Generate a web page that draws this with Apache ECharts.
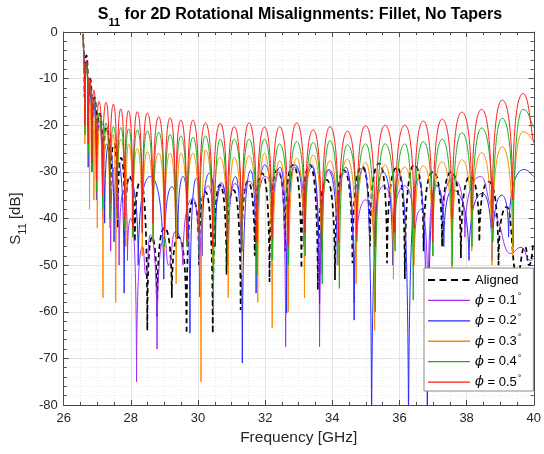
<!DOCTYPE html>
<html>
<head>
<meta charset="utf-8">
<script src="https://cdn.jsdelivr.net/npm/echarts@6/dist/echarts.min.js"></script>
<style>
  html, body { margin: 0; padding: 0; background: #fff; }
  #chart { width: 544px; height: 454px; }
</style>
</head>
<body>
<div id="chart"></div>
<script>
// Key points of each S11 trace, [frequency GHz, dB], running through
// successive ripple maxima and minima.
const aligned = [
  [26.58,-0.5],[26.62,-14],[26.68,-5],[26.73,-20],[26.79,-10],[26.85,-25],[26.92,-14],[26.99,-30],
  [27.07,-17.5],[27.17,-34],[27.28,-20.5],[27.39,-38],[27.50,-24],[27.61,-42],[27.71,-27],[27.83,-46],
  [27.96,-31],[28.12,-45],[28.29,-32],[28.49,-64],[28.63,-44],[28.78,-61],[29.0,-42],[29.22,-57],
  [29.42,-44],[29.66,-64.7],[29.85,-36],[30.03,-50],[30.22,-34.3],[30.44,-64.6],[30.65,-32.8],[30.85,-52],
  [31.06,-33.9],[31.27,-59.6],[31.48,-32.1],[31.69,-48],[31.91,-30.3],[32.13,-53.6],[32.36,-29.6],[32.59,-47],
  [32.83,-28.5],[33.08,-50.7],[33.33,-28.5],[33.57,-55.3],[33.83,-31.7],[34.08,-53.2],[34.34,-29.6],[34.60,-49.6],
  [34.88,-28.9],[35.12,-46],[35.40,-28.2],[35.63,-49.6],[35.93,-29],[36.16,-53],[36.44,-28.5],[36.72,-47],
  [37.0,-30],[37.27,-46],[37.54,-30],[37.83,-48.5],[38.10,-31],[38.38,-45],[38.66,-32.1],[38.95,-50],
  [39.2,-37.5],[39.5,-52],[39.74,-46],[39.86,-50],[40.0,-45]
];
const phi01 = [
  [26.58,-0.5],[26.63,-15],[26.68,-6],[26.73,-21],[26.78,-11],[26.84,-28],[26.90,-15],[26.975,-34],
  [27.05,-19],[27.16,-40],[27.28,-24],[27.40,-47],[27.52,-29],[27.65,-50],[27.80,-34],[27.90,-49],
  [28.0,-40],[28.17,-75],[28.35,-46],[28.45,-52],[28.58,-43.5],[28.78,-68],[29.0,-44],[29.12,-50],
  [29.32,-42.8],[29.55,-50],[29.85,-35.7],[30.05,-56.8],[30.30,-33],[30.50,-37],[30.70,-33],[30.90,-36],
  [31.10,-32.5],[31.30,-35],[31.52,-32],[31.75,-34],[32.0,-31],[32.25,-33],[32.42,-30],[32.61,-67.5],
  [32.88,-29],[33.15,-38],[33.40,-28.5],[33.62,-67.5],[33.90,-29.5],[34.15,-42],[34.40,-30],[34.65,-58],
  [34.99,-36],[35.25,-48],[35.52,-33],[35.82,-45],[36.15,-33],[36.45,-46],[36.65,-38],[36.85,-62],
  [37.08,-32.8],[37.30,-40],[37.60,-31.5],[37.95,-44],[38.42,-31],[38.70,-37],[38.95,-40.7],[39.3,-47.5],
  [39.62,-46.2],[39.9,-49],[40.0,-48.5]
];
const phi02 = [
  [26.58,-0.5],[26.63,-18],[26.68,-7],[26.73,-29],[26.78,-12],[26.84,-30],[26.90,-16],[26.975,-36],
  [27.05,-20],[27.22,-41],[27.35,-24],[27.50,-45],[27.62,-28],[27.80,-56],[27.95,-31.4],[28.22,-50],
  [28.58,-31],[28.98,-53],[29.22,-33.2],[29.40,-44],[29.56,-31],[29.76,-64.6],[29.95,-31.4],[30.12,-48],
  [30.34,-30.3],[30.52,-46],[30.69,-32.3],[30.90,-50],[31.12,-31],[31.32,-71],[31.57,-29.7],[31.73,-56],
  [31.99,-28.5],[32.22,-45],[32.45,-29],[32.64,-60.3],[32.89,-28.5],[33.15,-46],[33.40,-29],[33.62,-58.2],
  [33.87,-29.6],[34.15,-50],[34.40,-29],[34.65,-61.8],[34.94,-28.9],[35.17,-88],[35.50,-30],[35.80,-50],
  [36.0,-30.5],[36.27,-88],[36.56,-31.4],[36.83,-88],[37.10,-33],[37.32,-46],[37.58,-33.9],[38.07,-49],
  [38.47,-34.6],[38.76,-49],[39.05,-35],[39.25,-44],[39.70,-29.5],[40.0,-31]
];
const phi03 = [
  [26.58,-0.5],[26.63,-24],[26.68,-8],[26.77,-38],[26.83,-15],[26.90,-36],[26.95,-18],[27.0,-42],
  [27.08,-20],[27.17,-57],[27.26,-21],[27.37,-42],[27.48,-22],[27.55,-58],[27.70,-23],[27.85,-46],
  [27.93,-24],[28.06,-44],[28.19,-25],[28.34,-48],[28.49,-25.7],[28.66,-44],[28.83,-26],[29.00,-47],
  [29.17,-26],[29.35,-54],[29.49,-26],[29.67,-46],[29.85,-26],[30.09,-75],[30.22,-25.3],[30.44,-50],
  [30.66,-26.9],[30.90,-57],[31.08,-26.9],[31.30,-52],[31.52,-26.6],[31.78,-58],[31.98,-26.0],[32.21,-63.5],
  [32.43,-27.6],[32.69,-60],[32.94,-27.1],[33.17,-57],[33.43,-26.4],[33.68,-52],[33.93,-27.6],[34.17,-50],
  [34.45,-27.3],[34.71,-54],[34.99,-28.0],[35.26,-64],[35.57,-28.5],[35.82,-53],[36.16,-29.0],[36.435,-50],
  [36.71,-28.7],[36.99,-48],[37.27,-27.8],[37.565,-52],[37.86,-27.4],[38.155,-47],[38.45,-25.9],[38.755,-50],
  [39.06,-24.6],[39.37,-48],[39.68,-21.4],[40.0,-23.5]
];
const phi04 = [
  [26.58,-0.5],[26.635,-22],[26.68,-7],[26.735,-26],[26.78,-11],[26.845,-30],[26.90,-14.5],[26.98,-34],
  [27.05,-17.5],[27.16,-38],[27.26,-19.5],[27.375,-40],[27.48,-20.3],[27.595,-40],[27.70,-20.5],[27.82,-42],
  [27.93,-20.8],[28.065,-44],[28.19,-21.0],[28.345,-43],[28.49,-21.2],[28.665,-45],[28.83,-21.5],[29.005,-46],
  [29.17,-22.0],[29.335,-44],[29.49,-22.3],[29.675,-46],[29.85,-22.6],[30.04,-48],[30.22,-22.3],[30.46,-60],
  [30.66,-23.0],[30.875,-50],[31.08,-23.0],[31.305,-47],[31.52,-23.0],[31.755,-52],[31.98,-23.0],[32.21,-49],
  [32.43,-24.0],[32.69,-50],[32.94,-23.5],[33.19,-48],[33.43,-23.7],[33.70,-54],[33.93,-23.3],[34.21,-55],
  [34.45,-24.2],[34.73,-45],[34.99,-24.0],[35.28,-60],[35.57,-24.0],[35.87,-47],[36.16,-24.0],[36.41,-57.5],
  [36.71,-23.5],[36.995,-48],[37.27,-23.0],[37.57,-50],[37.86,-21.6],[38.16,-46],[38.45,-20.6],[38.78,-45],
  [39.06,-18.5],[39.39,-46],[39.68,-16.6],[40.0,-20.5]
];
const phi05 = [
  [26.58,-0.3],[26.63,-20],[26.68,-6.5],[26.73,-24],[26.78,-10],[26.84,-28],[26.90,-12.5],[26.975,-32],
  [27.05,-14.9],[27.155,-35],[27.26,-15.1],[27.37,-37],[27.48,-15.5],[27.59,-38],[27.70,-16.5],[27.815,-40],
  [27.93,-16.9],[28.06,-42],[28.19,-17.1],[28.34,-43],[28.49,-17.4],[28.66,-41],[28.83,-18.2],[29.00,-44],
  [29.17,-18.4],[29.33,-42],[29.49,-18.9],[29.67,-45],[29.85,-18.9],[30.035,-43],[30.22,-19.5],[30.44,-46],
  [30.66,-19.6],[30.87,-44],[31.08,-20.3],[31.30,-47],[31.52,-19.5],[31.75,-45],[31.98,-20.4],[32.205,-44],
  [32.43,-20.3],[32.685,-46],[32.94,-19.5],[33.185,-43],[33.43,-21.0],[33.68,-47],[33.93,-20.3],[34.19,-45],
  [34.45,-21.3],[34.72,-44],[34.99,-20.1],[35.28,-46],[35.57,-20.0],[35.865,-43],[36.16,-20.0],[36.435,-42],
  [36.71,-19.1],[36.99,-45],[37.27,-18.7],[37.565,-40],[37.86,-17.2],[38.155,-38],[38.45,-16.6],[38.755,-42],
  [39.06,-14.6],[39.37,-36],[39.68,-13.2],[40.0,-23.8]
];

const traceNames = ['Aligned', 'ϕ = 0.1°', 'ϕ = 0.2°', 'ϕ = 0.3°', 'ϕ = 0.4°', 'ϕ = 0.5°'];
const traceData = [aligned, phi01, phi02, phi03, phi04, phi05];
const traceColors = ['#000000', '#a62cf5', '#2b2bff', '#ff8a00', '#17b117', '#ff1a1a'];

const FONT = '"Liberation Sans", Arial, Helvetica, sans-serif';
const AXIS_COLOR = '#4a4a4a';
const TEXT_COLOR = '#262626';

// Builds an SVG path through the key points: ripple maxima are rounded,
// deep minima are sharp cusps, shallow minima stay rounded.
function tracePath(pts, api) {
  const c = pts.map(p => api.coord(p));
  const n = c.length;
  const kind = pts.map((p, i) => {
    if (i === 0 || i === n - 1) return 'end';
    const a = pts[i - 1][1], v = p[1], b = pts[i + 1][1];
    if (v >= a && v >= b) return 'peak';
    if (v <= a && v <= b) return (Math.min(a, b) - v > 6) ? 'cusp' : 'valley';
    return 'mid';
  });
  function ctrl(i, j) {
    const p = c[i], q = c[j];
    const dx = q[0] - p[0], dy = q[1] - p[1];
    switch (kind[i]) {
      case 'peak':
      case 'valley':
        return [p[0] + 0.55 * dx, p[1]];
      case 'cusp':
        return [p[0] + 0.04 * dx, p[1] + 0.72 * dy];
      case 'mid': {
        const step = j > i ? 1 : -1;
        const o = c[i + step], r = c[i - step];
        const tx = o[0] - r[0], ty = o[1] - r[1];
        const L = Math.hypot(tx, ty) || 1;
        const s = Math.hypot(dx, dy) / 3;
        return [p[0] + tx / L * s, p[1] + ty / L * s];
      }
      default:
        return [p[0] + dx / 3, p[1] + dy / 3];
    }
  }
  let d = 'M' + c[0][0].toFixed(2) + ',' + c[0][1].toFixed(2);
  for (let i = 0; i < n - 1; i++) {
    const a = ctrl(i, i + 1), b = ctrl(i + 1, i);
    d += 'C' + a[0].toFixed(2) + ',' + a[1].toFixed(2) + ' ' +
         b[0].toFixed(2) + ',' + b[1].toFixed(2) + ' ' +
         c[i + 1][0].toFixed(2) + ',' + c[i + 1][1].toFixed(2);
  }
  return d;
}

function traceSeries(idx) {
  const pts = traceData[idx];
  const color = traceColors[idx];
  const dashed = idx === 0;
  return {
    type: 'custom',
    name: traceNames[idx],
    coordinateSystem: 'cartesian2d',
    xAxisIndex: 0,
    yAxisIndex: 0,
    data: pts,
    encode: { x: 0, y: 1 },
    clip: true,
    silent: true,
    itemStyle: { color: color },
    renderItem: function (params, api) {
      if (params.dataIndex !== 0) return null;
      const cs = params.coordSys;
      return {
        type: 'group',
        clipPath: { type: 'rect', shape: { x: cs.x, y: cs.y, width: cs.width, height: cs.height } },
        children: [{
          type: 'path',
          shape: { pathData: tracePath(pts, api) },
          style: {
            fill: 'none',
            stroke: color,
            lineWidth: dashed ? 1.7 : 1,
            lineDash: dashed ? [5, 3.5] : null
          }
        }]
      };
    }
  };
}

const solidIcon = 'path://M0,0M42,14M0,6.4h42v1.3h-42z';
const dashIcon = 'path://M0,0M42,14M0,6.1h7v1.9h-7zM11.5,6.1h7v1.9h-7zM23,6.1h7v1.9h-7zM34.5,6.1h7v1.9h-7z';

const chart = echarts.init(document.getElementById('chart'), null, { renderer: 'canvas' });

const baseAxis = {
  axisLine: { show: true, onZero: false, lineStyle: { color: AXIS_COLOR, width: 1 } },
  axisTick: { show: true, inside: true, length: 5, lineStyle: { color: AXIS_COLOR } }
};

chart.setOption({
  animation: false,
  backgroundColor: '#ffffff',
  textStyle: { fontFamily: FONT },
  title: {
    text: '{a|S}{s|11}{a| for 2D Rotational Misalignments: Fillet, No Tapers}',
    left: 295,
    top: 2,
    textAlign: 'center',
    textStyle: {
      rich: {
        a: { fontFamily: FONT, fontSize: 16, fontWeight: 'bold', color: '#000', lineHeight: 21, verticalAlign: 'top' },
        s: { fontFamily: FONT, fontSize: 11, fontWeight: 'bold', color: '#000', lineHeight: 14, verticalAlign: 'bottom' }
      }
    }
  },
  grid: { left: 62, right: 5, top: 32, bottom: 49, containLabel: false },
  legend: {
    orient: 'vertical',
    left: 424,
    top: 268,
    itemWidth: 42,
    itemHeight: 14,
    itemGap: 5.4,
    padding: [5, 12, 2, 4],
    backgroundColor: '#ffffff',
    borderColor: '#8a8a8a',
    borderWidth: 1,
    borderRadius: 0,
    data: traceNames.map((name, i) => ({ name: name, icon: i === 0 ? dashIcon : solidIcon })),
    formatter: function (name) {
      if (name.charAt(0) === 'ϕ') {
        return '{p|ϕ}{t|' + name.slice(1, name.length - 1) + '}{d|°}';
      }
      return '{t|' + name + '}';
    },
    textStyle: {
      color: '#000',
      fontSize: 13,
      rich: {
        t: { fontFamily: FONT, fontSize: 13, color: '#000', lineHeight: 16 },
        p: { fontFamily: '"DejaVu Serif", "Liberation Serif", serif', fontStyle: 'italic', fontSize: 13, color: '#000', lineHeight: 16 },
        d: { fontFamily: FONT, fontSize: 9, color: '#000', lineHeight: 16, verticalAlign: 'top', padding: [0, 0, 6, 1] }
      }
    }
  },
  xAxis: [
    Object.assign({}, baseAxis, {
      type: 'value', min: 26, max: 40, interval: 2, position: 'bottom',
      minorTick: { show: true, splitNumber: 4, length: 3, lineStyle: { color: AXIS_COLOR } },
      axisLabel: { color: TEXT_COLOR, fontSize: 13, margin: 7, fontFamily: FONT },
      splitLine: { show: true, lineStyle: { color: '#e3e3e3', width: 1 } },
      minorSplitLine: { show: true, lineStyle: { color: '#e8e8e8', width: 1, type: [1, 2] } },
      name: 'Frequency [GHz]',
      nameLocation: 'middle',
      nameGap: 25,
      nameTextStyle: { color: TEXT_COLOR, fontSize: 15.5, fontFamily: FONT }
    }),
    Object.assign({}, baseAxis, {
      type: 'value', min: 26, max: 40, interval: 2, position: 'top',
      minorTick: { show: true, splitNumber: 4, length: 3, lineStyle: { color: AXIS_COLOR } },
      axisLabel: { show: false },
      splitLine: { show: false }
    })
  ],
  yAxis: [
    Object.assign({}, baseAxis, {
      type: 'value', min: -80, max: 0, interval: 10, position: 'left',
      minorTick: { show: true, splitNumber: 5, length: 3, lineStyle: { color: AXIS_COLOR } },
      axisLabel: { color: TEXT_COLOR, fontSize: 13, margin: 6, fontFamily: FONT },
      splitLine: { show: true, lineStyle: { color: '#e3e3e3', width: 1 } },
      minorSplitLine: { show: true, lineStyle: { color: '#e8e8e8', width: 1, type: [1, 2] } },
      name: '{a|S}{s|11}{a| [dB]}',
      nameLocation: 'middle',
      nameGap: 34,
      nameTextStyle: {
        rich: {
          a: { fontFamily: FONT, fontSize: 15, color: TEXT_COLOR, lineHeight: 20, verticalAlign: 'top' },
          s: { fontFamily: FONT, fontSize: 11, color: TEXT_COLOR, lineHeight: 14, verticalAlign: 'bottom' }
        }
      }
    }),
    Object.assign({}, baseAxis, {
      type: 'value', min: -80, max: 0, interval: 10, position: 'right',
      minorTick: { show: true, splitNumber: 5, length: 3, lineStyle: { color: AXIS_COLOR } },
      axisLabel: { show: false },
      splitLine: { show: false }
    })
  ],
  series: traceData.map((_, i) => traceSeries(i))
});
</script>
</body>
</html>
